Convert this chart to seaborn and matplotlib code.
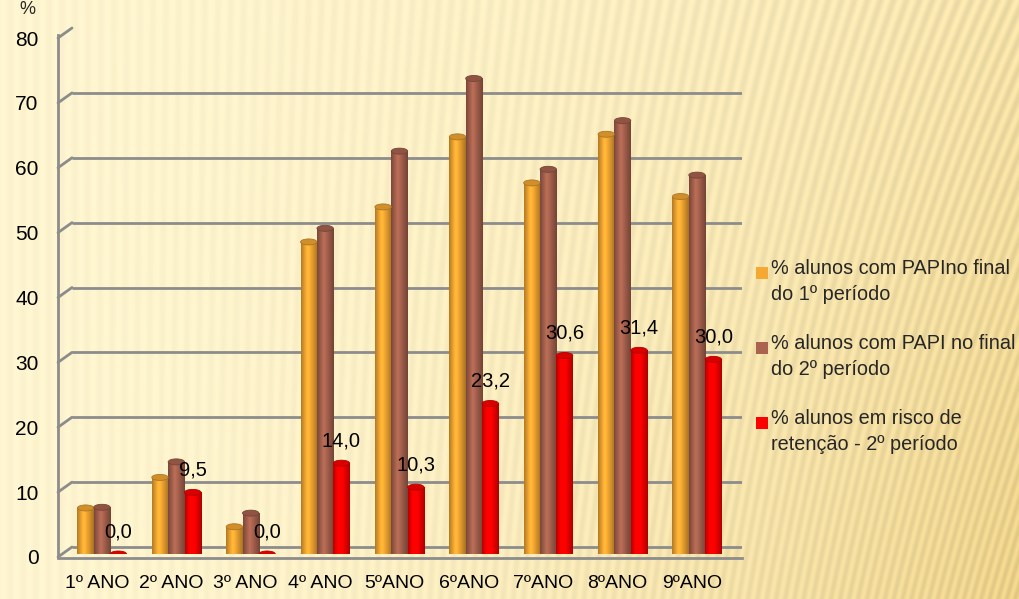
import numpy as np
import pandas as pd
import seaborn as sns
import matplotlib.pyplot as plt
from matplotlib.colors import to_rgb
from matplotlib.patches import Ellipse, Rectangle
from matplotlib.legend_handler import HandlerPatch
from matplotlib.transforms import ScaledTranslation

# data
anos = ['1º ANO', '2º ANO', '3º ANO', '4º ANO', '5ºANO', '6ºANO', '7ºANO', '8ºANO', '9ºANO']
papi_1p = [7.1, 11.8, 4.2, 48.1, 53.5, 64.3, 57.2, 64.7, 55.1]
papi_2p = [7.2, 14.2, 6.3, 50.2, 62.1, 73.3, 59.3, 66.8, 58.4]
risco_2p = [0.0, 9.5, 0.0, 14.0, 10.3, 23.2, 30.6, 31.4, 30.0]
series = ['% alunos com PAPIno final\ndo 1º período',
          '% alunos com PAPI no final\ndo 2º período',
          '% alunos em risco de\nretenção - 2º período']
cores = ['#F5A832', '#A9634F', '#FF0000']
yticks = [0, 10, 20, 30, 40, 50, 60, 70, 80]

df = pd.DataFrame({
    'ano': anos * 3,
    'valor': papi_1p + papi_2p + risco_2p,
    'serie': [series[0]] * 9 + [series[1]] * 9 + [series[2]] * 9,
})

sns.set_theme(style='white')
plt.rcParams['font.family'] = ['Liberation Sans', 'DejaVu Sans']

fig = plt.figure(figsize=(10.19, 5.99), dpi=100)

# beige striped background
H, W = 599, 1019
xx = np.linspace(0, 1, W)[None, :]
yy = np.linspace(0, 1, H)[:, None]
c0 = np.array([254, 245, 208]) / 255
c1 = np.array([234, 206, 132]) / 255
t = np.clip(0.15 * xx + 0.8 * xx ** 2 * (0.45 + 0.55 * yy), 0, 1)
img = c0[None, None, :] * (1 - t[..., None]) + c1[None, None, :] * t[..., None]
phase = 2 * np.pi * (xx * W / 13 + yy * H * (xx ** 2) * 0.45 / 13)
stripes = 1 + (0.012 + 0.035 * xx ** 2) * np.sin(phase)
img = np.clip(img * stripes[..., None], 0, 1)
bg = fig.add_axes([0, 0, 1, 1], zorder=-1)
bg.imshow(img, aspect='auto')
bg.axis('off')

# plot box: left 58px, right 742px, y=0 at 554px, y=80 at 35px
ax = fig.add_axes([58 / W, 45 / H, 684 / W, 519 / H])
ax.set_facecolor('none')

sns.barplot(data=df, x='ano', y='valor', hue='serie', palette=cores,
            width=0.66, gap=0, saturation=1, ax=ax, zorder=3,
            edgecolor='none')

# cylinder-like shading and top caps on each bar
grad = np.concatenate([np.linspace(0.72, 1.12, 40), np.linspace(1.12, 0.68, 60)])
px = 80 / 519  # data units per pixel
for cont, cor in zip(ax.containers, cores):
    base = np.array(to_rgb(cor))
    shade = np.clip(base[None, :] * grad[:, None], 0, 1)[None, :, :]
    for p in cont:
        h = p.get_height()
        x0, w = p.get_x(), p.get_width()
        if h > 0:
            im = ax.imshow(shade, extent=[x0, x0 + w, 0, h], aspect='auto',
                           zorder=4, interpolation='bilinear')
            im.set_clip_path(p)
            ax.add_patch(Ellipse((x0 + w / 2, 0), w, 6 * px,
                                 facecolor=base * 0.8, edgecolor='none', zorder=3.9))
        ax.add_patch(Ellipse((x0 + w / 2, h), w, 6 * px,
                             facecolor=np.clip(base * 0.85, 0, 1),
                             edgecolor=np.clip(base * 0.7, 0, 1), lw=0.6, zorder=5))

ax.bar_label(ax.containers[2], labels=[f'{v:.1f}'.replace('.', ',') for v in risco_2p],
             padding=9, fontsize=14.5, color='black', zorder=6)

ax.set_xlim(-0.591, 8.605)
ax.set_ylim(0, 80)
ax.set_yticks(yticks)
ax.set_xlabel('')
ax.set_ylabel('')

# 3d-ish back-wall gridlines with a short slant to the front axis
gcol = '#8c8c8c'
back = ax.get_yaxis_transform() + ScaledTranslation(0, 7 / 100, fig.dpi_scale_trans)
ax.hlines(yticks, 14 / 684, 1, transform=back, color=gcol, lw=2, zorder=1)
for y in yticks:
    ax.plot([0, 14 / 684], [y / 80 - 3 / 519, y / 80 + 7 / 519], transform=ax.transAxes,
            color=gcol, lw=2, zorder=1, clip_on=False)

for s in ['top', 'right']:
    ax.spines[s].set_visible(False)
for s in ['left', 'bottom']:
    ax.spines[s].set_color(gcol)
    ax.spines[s].set_linewidth(2)
ax.spines['bottom'].set_position(('outward', 3))
ax.tick_params(axis='y', length=0, pad=14, labelsize=15, labelcolor='black')
ax.tick_params(axis='x', length=0, pad=12, labelsize=14, labelcolor='black')
front = ScaledTranslation(0, -3 / 100, fig.dpi_scale_trans)
for lab in ax.get_yticklabels():
    lab.set_transform(lab.get_transform() + front)
shift = ScaledTranslation(-5 / 100, 0, fig.dpi_scale_trans)
for lab in ax.get_xticklabels():
    lab.set_transform(lab.get_transform() + shift)


class TopSquare(HandlerPatch):
    def create_artists(self, legend, orig_handle, xdescent, ydescent,
                       width, height, fontsize, trans):
        s = 0.62 * fontsize
        r = Rectangle((-xdescent, -ydescent + height - s), s, s,
                      facecolor=orig_handle.get_facecolor(), edgecolor='none',
                      transform=trans)
        return [r]


handles, labels = ax.get_legend_handles_labels()
ax.get_legend().remove()
leg = fig.legend(handles, labels, loc='center left', bbox_to_anchor=(0.724, 0.405),
                 frameon=False, fontsize=14.3, labelspacing=1.5,
                 handlelength=0.62, handleheight=2.1, handletextpad=0.15,
                 handler_map={Rectangle: TopSquare()})
for txt in leg.get_texts():
    txt.set_linespacing(1.48)

fig.text(0.027, 0.999, '%', fontsize=13, ha='center', va='top')

fig.savefig('out.png', dpi=100)
